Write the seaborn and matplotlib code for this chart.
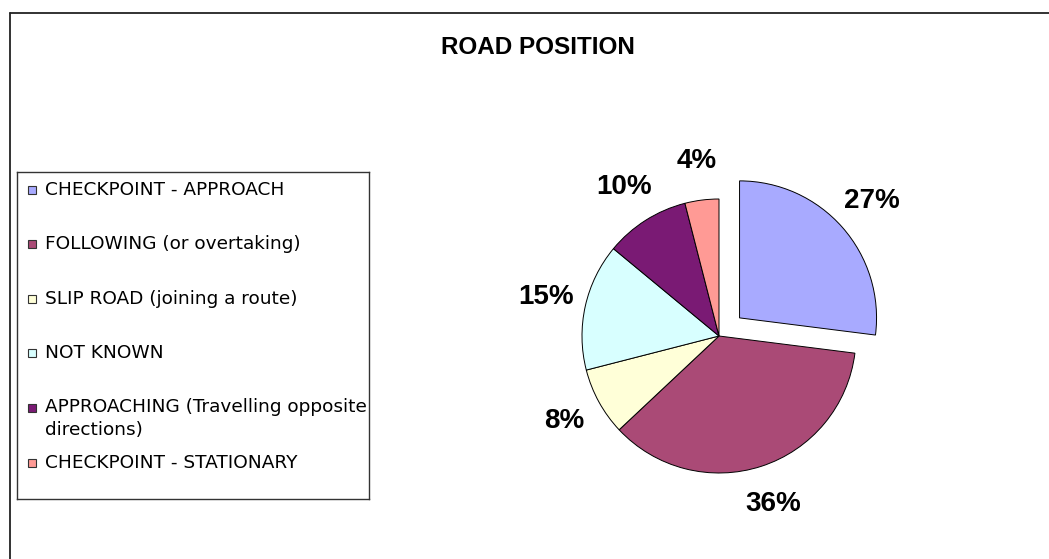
import matplotlib
matplotlib.use("Agg")
import matplotlib.pyplot as plt
import seaborn as sns
from matplotlib.lines import Line2D

categories = ["CHECKPOINT - APPROACH", "FOLLOWING (or overtaking)",
              "SLIP ROAD (joining a route)", "NOT KNOWN",
              "APPROACHING (Travelling opposite\ndirections)",
              "CHECKPOINT - STATIONARY"]
shares = [27, 36, 8, 15, 10, 4]
slice_colors = ["#A8AAFF", "#AA4A76", "#FFFFD8", "#D8FFFF", "#7A1A74", "#FF9A95"]
explode = [0.2, 0, 0, 0, 0, 0]

sns.set_theme(style="white")
plt.rcParams["font.family"] = ["Liberation Sans", "DejaVu Sans"]
plt.rcParams["text.color"] = "black"

W, H = 1049, 559
fig = plt.figure(figsize=(W / 100, H / 100), dpi=100)
fig.patch.set_facecolor("white")

# outer chart border (only top and left edges are visible)
fig.add_artist(Line2D([10 / W, 1], [1 - 13 / H, 1 - 13 / H], color="#222222", lw=1.3,
                      transform=fig.transFigure))
fig.add_artist(Line2D([10 / W, 10 / W], [0, 1 - 13 / H], color="#222222", lw=1.3,
                      transform=fig.transFigure))

fig.text(538 / W, 1 - 48 / H, "ROAD POSITION", ha="center", va="center",
         fontsize=17.5, fontweight="bold", color="black")

# pie
cx, cy, r, lim = 719, 336, 137, 1.6
side = 2 * lim * r
ax = fig.add_axes([(cx - side / 2) / W, (H - cy - side / 2) / H, side / W, side / H])
wedges, _, autotexts = ax.pie(shares, colors=slice_colors, explode=explode,
                              startangle=90, counterclock=False,
                              autopct="%1.0f%%", pctdistance=1.29,
                              wedgeprops=dict(edgecolor="black", linewidth=0.7),
                              textprops=dict(fontsize=20, fontweight="bold", color="black"))
ax.set_xlim(-lim, lim)
ax.set_ylim(-lim, lim)
ax.set_aspect("equal")
ax.axis("off")

# legend box
lx0, ly0, lx1, ly1 = 17, 172, 369, 499
lax = fig.add_axes([lx0 / W, (H - ly1) / H, (lx1 - lx0) / W, (ly1 - ly0) / H])
lax.set_xlim(0, lx1 - lx0)
lax.set_ylim(ly1 - ly0, 0)
lax.set_xticks([])
lax.set_yticks([])
for s in lax.spines.values():
    s.set_color("#333333")
    s.set_linewidth(1.0)
row_y = [18, 72, 127, 181, 236, 291]
for i, (lab, col) in enumerate(zip(categories, slice_colors)):
    lax.plot([14.5], [row_y[i]], marker="s", markersize=6.3, color=col,
             markeredgecolor="#333333", markeredgewidth=0.8, clip_on=False)
    if "\n" in lab:
        lax.text(28, row_y[i] - 9.5, lab, va="top", ha="left", fontsize=13.3,
                 family="DejaVu Sans", color="black", linespacing=1.3, clip_on=True)
    else:
        lax.text(28, row_y[i], lab, va="center", ha="left", fontsize=13.3,
                 family="DejaVu Sans", color="black", clip_on=True)

fig.savefig("out.png", dpi=100, facecolor="white")
